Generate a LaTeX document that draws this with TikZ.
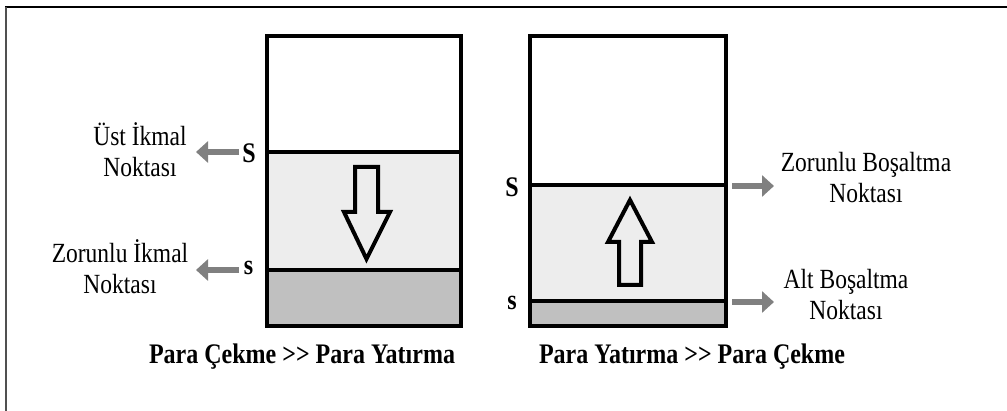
\documentclass[tikz,border=0pt]{standalone}
\usepackage{fontspec}
\setmainfont{Liberation Serif}
\usetikzlibrary{arrows.meta}
\definecolor{lightfill}{HTML}{EDEDED}
\definecolor{darkfill}{HTML}{C0C0C0}
\definecolor{arrowgray}{HTML}{808080}
\definecolor{framegray}{HTML}{505050}
\newcommand{\vst}[1]{\scalebox{1}[1.18]{#1}}
\tikzset{
  boxline/.style={line width=4.5pt, line cap=rect},
  divline/.style={line width=4pt},
  blockarrow/.style={line width=4pt, line join=miter, fill=lightfill},
  grayarrow/.style={draw=arrowgray, line width=6pt, -{Triangle[length=12pt,width=21pt]}},
  lbl/.style={font=\fontsize{23.5}{31}\selectfont, align=center, inner sep=0pt},
  letter/.style={font=\fontsize{24}{28}\selectfont\bfseries, inner sep=0pt},
  caption/.style={font=\fontsize{24}{28}\selectfont\bfseries, inner sep=0pt}
}
\begin{document}
\begin{tikzpicture}[x=1pt,y=-1pt]
\useasboundingbox (0,0) rectangle (1007,411);
% outer frame (only top and left edges visible)
\draw[line width=2pt] (5,7) -- (1007,7);
\draw[framegray, line width=2.5pt] (6,7) -- (6,411);

% ---------- left tank ----------
\fill[lightfill] (267,152) rectangle (461,270);
\fill[darkfill] (267,270) rectangle (461,326);
\draw[divline] (267,152) -- (461,152);
\draw[divline] (267,270) -- (461,270);
\draw[boxline] (267,36) rectangle (461,326);
\draw[blockarrow] (355,167) -- (378,167) -- (378,212) -- (390,212) -- (366.5,259) -- (344,212) -- (355,212) -- cycle;

\node[letter] (SL) at (249,153) {\vst{S}};
\node[letter] (sL) at (248.5,268) {\vst{s}};
\coordinate (SLtail) at (239,152);
\coordinate (SLtip) at (196,152);
\coordinate (sLtail) at (239,270);
\coordinate (sLtip) at (196,270);
\draw[grayarrow] (SLtail) -- (SLtip);
\draw[grayarrow] (sLtail) -- (sLtip);
\node[lbl] (ust) at (140,150) {\vst{Üst İkmal}\\\vst{Noktası}};
\node[lbl] (zik) at (120,267) {\vst{Zorunlu İkmal}\\\vst{Noktası}};

\node[caption] (capL) at (302,357) {\vst{Para Çekme >{}> Para Yatırma}};

% ---------- right tank ----------
\fill[lightfill] (530,185) rectangle (726,301);
\fill[darkfill] (530,301) rectangle (726,326);
\draw[divline] (530,185) -- (726,185);
\draw[divline] (530,301) -- (726,301);
\draw[boxline] (530,36) rectangle (726,326);
\draw[blockarrow] (619,285) -- (641,285) -- (641,242) -- (652,242) -- (630,200) -- (608,242) -- (619,242) -- cycle;

\node[letter] (SR) at (512,187) {\vst{S}};
\node[letter] (sR) at (512,303) {\vst{s}};
\coordinate (SRtail) at (732,186);
\coordinate (SRtip) at (774,186);
\coordinate (sRtail) at (732,302);
\coordinate (sRtip) at (774,302);
\draw[grayarrow] (SRtail) -- (SRtip);
\draw[grayarrow] (sRtail) -- (sRtip);
\node[lbl] (zbos) at (866,178) {\vst{Zorunlu Boşaltma}\\\vst{Noktası}};
\node[lbl] (abos) at (846,295) {\vst{Alt Boşaltma}\\\vst{Noktası}};

\node[caption] (capR) at (692,357) {\vst{Para Yatırma >{}> Para Çekme}};
\end{tikzpicture}
\end{document}
